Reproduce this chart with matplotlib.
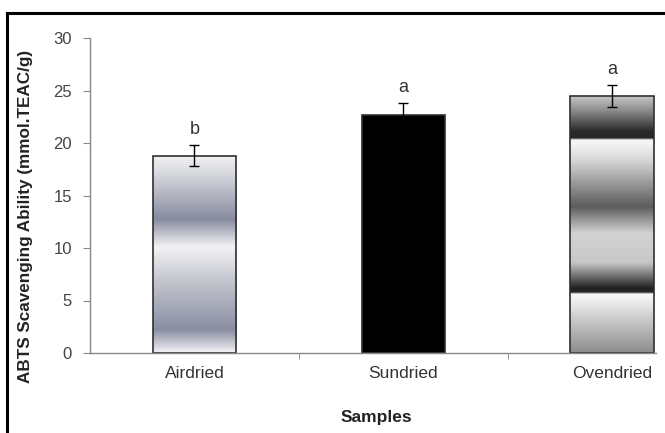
import numpy as np
import matplotlib
matplotlib.use("Agg")
import matplotlib.pyplot as plt
from matplotlib.colors import to_rgb
from matplotlib.lines import Line2D

plt.rcParams['font.family'] = ['Liberation Sans', 'DejaVu Sans']

# data
samples = ["Airdried", "Sundried", "Ovendried"]
abts = [18.8, 22.7, 24.5]
abts_err = [1.0, 1.1, 1.05]
letters = ["b", "a", "a"]

# fill styles: (value, colour) stops for each bar, None = solid black
fills = [
    [(0.0, "#f4f4f6"), (2.2, "#8a8ea2"), (7.0, "#c6c8d0"), (10.1, "#f3f3f5"),
     (12.7, "#878b9f"), (17.3, "#dcdde2"), (18.8, "#f2f2f4")],
    None,
    [(0.0, "#8c8c8c"), (5.6, "#fafafa"), (5.75, "#2a2a2a"), (6.1, "#1e1e1e"),
     (8.6, "#c8c8c8"), (11.4, "#d2d2d2"), (13.9, "#5c5c5c"), (18.4, "#d8d8d8"),
     (20.25, "#f8f8f8"), (20.45, "#262626"), (21.1, "#2a2a2a"), (23.1, "#8e8e8e"),
     (24.5, "#cacaca")],
]

fig = plt.figure(figsize=(6.65, 4.33), dpi=100)
ax = fig.add_axes([90 / 665, 80 / 433, 566 / 665, 315 / 433])

x = np.arange(len(samples))
bars = ax.bar(x, abts, width=0.4, color="black", edgecolor="#303030",
              linewidth=1.2, zorder=2)

# gradient fills clipped to the bar rectangles
for bar, stops in zip(bars, fills):
    if stops is None:
        continue
    h = bar.get_height()
    vals = np.linspace(0, h, 400)
    sv = [s[0] for s in stops]
    cols = np.array([to_rgb(s[1]) for s in stops])
    img = np.stack([np.interp(vals, sv, cols[:, k]) for k in range(3)], axis=-1)
    img = img[::-1][:, None, :]
    bar.set_facecolor("none")
    im = ax.imshow(img, extent=[bar.get_x(), bar.get_x() + bar.get_width(), 0, h],
                   aspect="auto", zorder=1.5, interpolation="bilinear")
    im.set_clip_path(bar)

ax.errorbar(x, abts, yerr=abts_err, fmt="none", ecolor="black",
            elinewidth=1.0, capsize=3.5, capthick=1.0, zorder=3)

for xi, v, e, t in zip(x, abts, abts_err, letters):
    ax.text(xi, v + e + 1.45, t, ha="center", va="center", fontsize=13,
            color="#333333")

ax.set_xlim(-0.5, 2.21)
ax.set_ylim(0, 30)
ax.set_yticks(range(0, 31, 5))
ax.set_xticks(x)
ax.set_xticklabels(samples)
ax.set_xticks([0.5, 1.5], minor=True)
ax.tick_params(axis="x", which="major", length=0, pad=9, labelsize=12.5,
               labelcolor="#333333")
ax.tick_params(axis="x", which="minor", length=4, color="#888888", direction="out")
ax.tick_params(axis="y", length=5, color="#888888", labelsize=12,
               labelcolor="#444444", pad=8)

for side in ["top", "right"]:
    ax.spines[side].set_visible(False)
for side in ["left", "bottom"]:
    ax.spines[side].set_color("#888888")
    ax.spines[side].set_linewidth(1.0)

ax.set_ylabel("ABTS Scavenging Ability (mmol.TEAC/g)", fontsize=12.3,
              fontweight="bold", color="#222222")
ax.yaxis.set_label_coords(33 / 665, (433 - 216) / 433, transform=fig.transFigure)
ax.set_xlabel("Samples", fontsize=12.5, fontweight="bold", color="#222222")
ax.xaxis.set_label_coords(376 / 665, (433 - 410) / 433, transform=fig.transFigure)

# outer frame, only top and left edges show in the crop
fig.add_artist(Line2D([7 / 665, 1.0], [1 - 13 / 433, 1 - 13 / 433],
                      transform=fig.transFigure, color="black", linewidth=2.2))
fig.add_artist(Line2D([7 / 665, 7 / 665], [0, 1 - 13 / 433],
                      transform=fig.transFigure, color="black", linewidth=2.2))

fig.savefig("out.png", dpi=100)
